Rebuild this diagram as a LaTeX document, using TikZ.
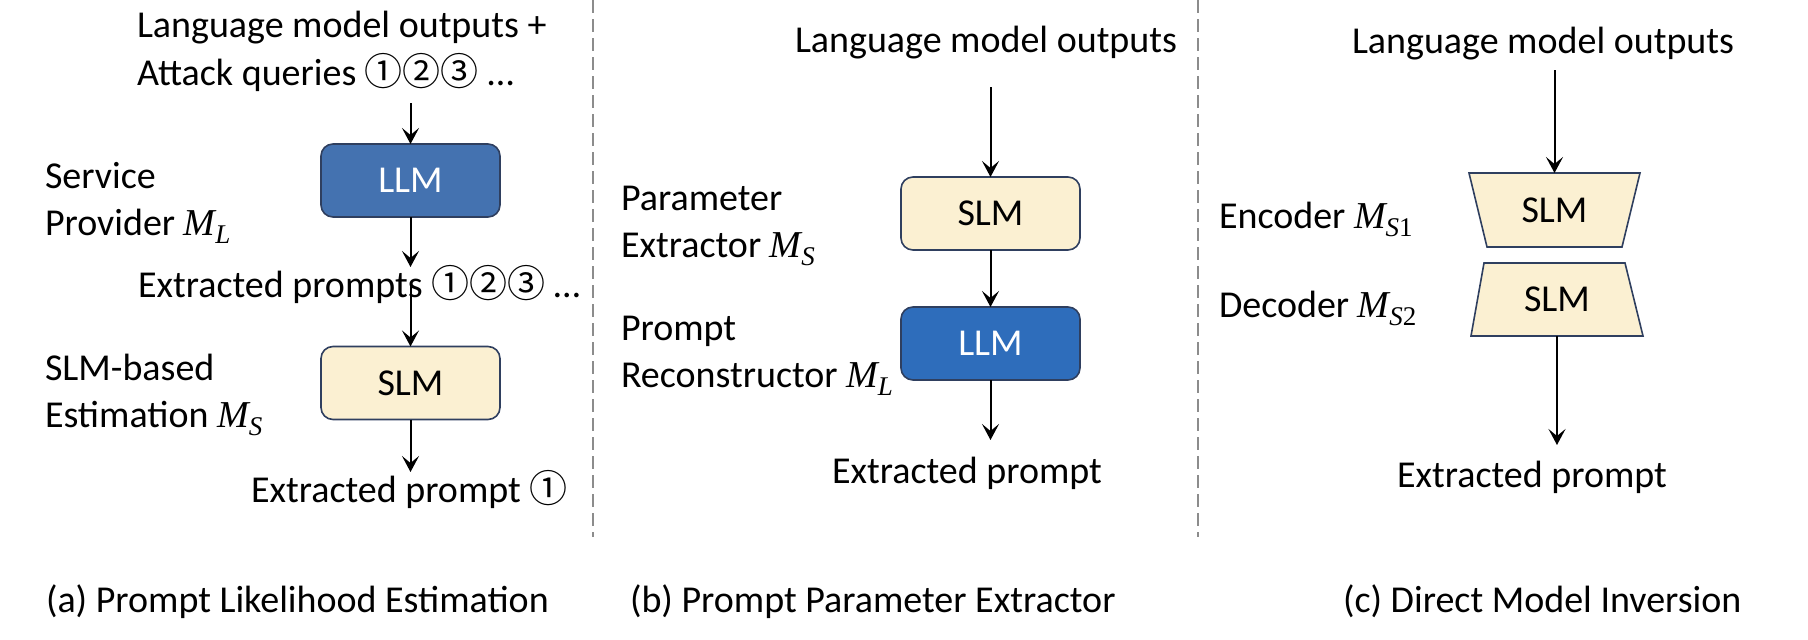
\documentclass[tikz,border=0pt]{standalone}
\usepackage{fontspec}
\setmainfont{Carlito}
\newfontfamily\cjk{Noto Sans CJK SC}
\newfontfamily\lsi{Liberation Serif}[UprightFont=* Italic]
\newfontfamily\lsr{Liberation Serif}
\newcommand\Mv[2][]{{\lsi M}\raisebox{-0.22em}{\fontsize{27}{30}\selectfont\lsi #2\lsr #1}}
\newcommand\cdig[1]{{\cjk #1}}
\usetikzlibrary{arrows.meta}
\definecolor{llma}{HTML}{4472B0}
\definecolor{llmb}{HTML}{2E6DBB}
\definecolor{slmfill}{HTML}{FBF0D2}
\definecolor{edgec}{HTML}{2F3F5F}
\definecolor{divgray}{HTML}{8C8C8C}
\begin{document}
\begin{tikzpicture}[x=1pt,y=-1pt,
  every node/.style={font=\fontsize{38}{46}\selectfont, inner sep=0pt, outer sep=0pt},
  lbl/.style={anchor=base west},
  model/.style={draw=edgec, line width=1.6pt, rounded corners=12pt, minimum width=179pt, minimum height=73pt},
  llm/.style={model, text=white},
  slm/.style={model, fill=slmfill},
  trap/.style={draw=edgec, line width=1.6pt, fill=slmfill, line join=miter},
  arr/.style={line width=2pt, -{Stealth[length=16pt,width=17pt,inset=7pt]}},
  divider/.style={draw=divgray, line width=1.5pt, dash pattern=on 13pt off 6pt},
]
\useasboundingbox (0,0) rectangle (1808,640);

% dividers
\draw[divider] (593,0) -- (593,537);
\draw[divider] (1198,0) -- (1198,537);

% ---------- panel (a)
\node[lbl] (aIn1) at (137,37) {Language model outputs +};
\node[lbl] (aIn2) at (137,85) {Attack queries \cdig{①②③} …};
\node[llm, fill=llma] (aLLM) at (410.5,180.5) {LLM};
\node[lbl] (aSP1) at (45,188) {Service};
\node[lbl] (aSP2) at (45,235) {Provider \Mv{L}};
\node[lbl] (aEx) at (138,297) {Extracted prompts \cdig{①②③} …};
\node[slm] (aSLM) at (410.5,383) {SLM};
\node[lbl] (aSE1) at (45,380) {SLM-based};
\node[lbl] (aSE2) at (45,427) {Estimation \Mv{S}};
\node[lbl] (aOut) at (251,502) {Extracted prompt \cdig{①}};
\coordinate (aA1) at (410.5,103);
\coordinate (aA2) at (410.5,267);
\coordinate (aA3) at (410.5,285);
\coordinate (aA4) at (410.5,472);
\draw[arr] (aA1) -- (aLLM.north);
\draw[arr] (aLLM.south) -- (aA2);
\draw[arr] (aA3) -- (aSLM.north);
\draw[arr] (aSLM.south) -- (aA4);

% ---------- panel (b)
\node[lbl] (bIn) at (795,52) {Language model outputs};
\node[slm] (bSLM) at (990.5,213.5) {SLM};
\node[llm, fill=llmb] (bLLM) at (990.5,343.5) {LLM};
\node[lbl] (bPE1) at (621,210) {Parameter};
\node[lbl] (bPE2) at (621,257) {Extractor \Mv{S}};
\node[lbl] (bPR1) at (621,340) {Prompt};
\node[lbl] (bPR2) at (621,387) {Reconstructor \Mv{L}};
\node[lbl] (bOut) at (832,483) {Extracted prompt};
\coordinate (bA1) at (990.5,87);
\coordinate (bA3) at (990.5,440);
\draw[arr] (bA1) -- (bSLM.north);
\draw[arr] (bSLM.south) -- (bLLM.north);
\draw[arr] (bLLM.south) -- (bA3);

% ---------- panel (c)
\node[lbl] (cIn) at (1352,53) {Language model outputs};
\draw[trap] (1469,173) -- (1640,173) -- (1622,247) -- (1487,247) -- cycle;
\draw[trap] (1484,263) -- (1625,263) -- (1643,336) -- (1471,336) -- cycle;
\node (cEnc) at (1554.5,210) {SLM};
\node (cDec) at (1557,299.5) {SLM};
\node[lbl] (cE) at (1219,228) {Encoder \Mv[1]{S}};
\node[lbl] (cD) at (1219,317) {Decoder \Mv[2]{S}};
\node[lbl] (cOut) at (1397,487) {Extracted prompt};
\coordinate (cA1) at (1554.5,70);
\coordinate (cEncTop) at (1554.5,173);
\coordinate (cDecBot) at (1557,336);
\coordinate (cA3) at (1557,445);
\draw[arr] (cA1) -- (cEncTop);
\draw[arr] (cDecBot) -- (cA3);

% ---------- captions
\node[lbl] (capA) at (46,612) {(a) Prompt Likelihood Estimation};
\node[lbl] (capB) at (630,612) {(b) Prompt Parameter Extractor};
\node[lbl] (capC) at (1343,612) {(c) Direct Model Inversion};
\end{tikzpicture}
\end{document}
